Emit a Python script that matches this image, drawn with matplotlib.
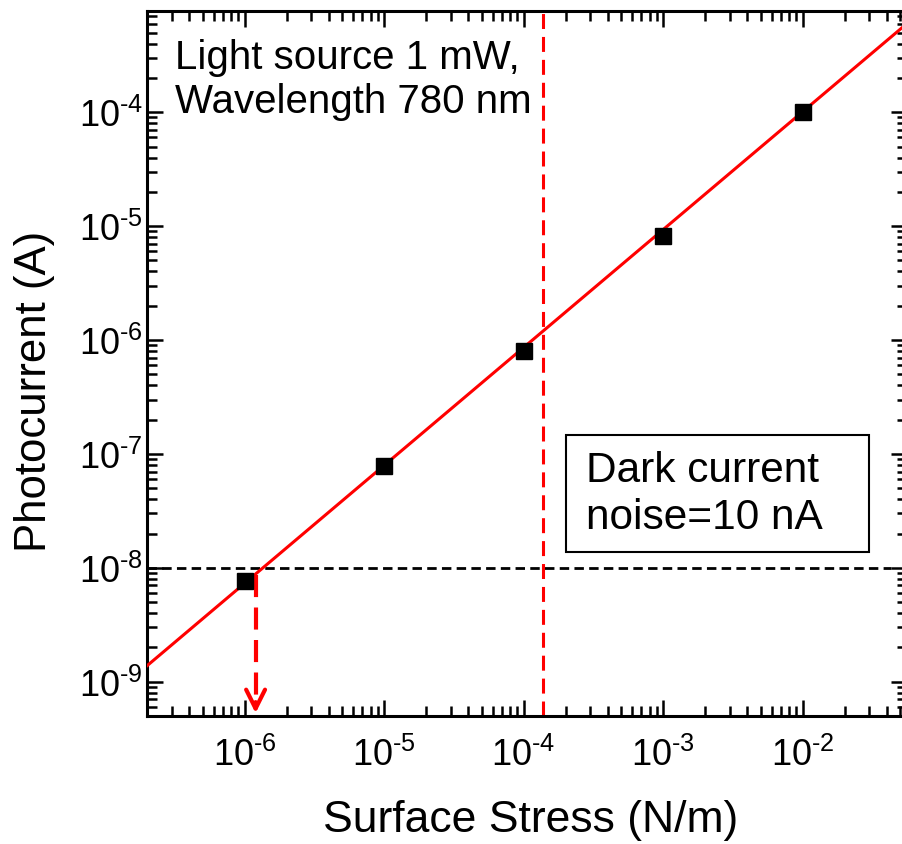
import numpy as np
import matplotlib
matplotlib.use("Agg")
import matplotlib.pyplot as plt
from matplotlib.patches import Rectangle
from matplotlib.ticker import FuncFormatter

plt.rcParams['font.family'] = ['Liberation Sans', 'DejaVu Sans']
plt.rcParams['mathtext.fontset'] = 'custom'
plt.rcParams['mathtext.rm'] = 'Liberation Sans'
plt.rcParams['mathtext.it'] = 'Liberation Sans'

# measured points
stress = [1e-6, 1e-5, 1e-4, 1e-3, 1e-2]          # N/m
current = [7.7e-9, 7.9e-8, 8.0e-7, 8.2e-6, 1.0e-4]  # A

# linear fit (end points as drawn)
fit_x = [2.0e-7, 5.56e-2]
fit_y = [1.38e-9, 5.96e-4]

noise_level = 1e-8      # dark current noise
min_stress = 1.2e-6     # detection limit
mark_stress = 1.37e-4   # red dashed marker

xlim = (2.0e-7, 5.56e-2)
ylim = (5.0e-10, 7.7e-4)


def pow10(v, pos):
    e = int(round(np.log10(v)))
    return r'10$^{\text{-%d}}$' % -e


fig = plt.figure(figsize=(9.02, 8.45), dpi=100)
ax = fig.add_axes([0.163, 0.1515, 0.842, 0.834])
ax.set_xscale('log')
ax.set_yscale('log')
ax.set_xlim(*xlim)
ax.set_ylim(*ylim)

ax.plot(fit_x, fit_y, color='red', lw=2.2, zorder=3)
ax.plot(stress, current, 's', color='black', ms=11, zorder=4)

ax.axhline(noise_level, xmax=0.98, color='black', lw=2, dashes=(3.4, 1.9), zorder=2)
ax.axvline(mark_stress, color='red', lw=2.2, dashes=(4.9, 2.6), zorder=2)

# detection limit arrow
ax.plot([min_stress, min_stress], [8.6e-9, 6.2e-10], color='red', lw=3,
        dashes=(5.3, 2.5), zorder=3)
ax.annotate('', xy=(min_stress, ylim[0]), xytext=(min_stress, 7.0e-10),
            arrowprops=dict(arrowstyle='->', color='red', lw=3,
                            mutation_scale=34), zorder=3)

ax.text(0.037, 0.962, 'Light source 1 mW,\nWavelength 780 nm',
        transform=ax.transAxes, fontsize=29, va='top', ha='left')

ax.add_patch(Rectangle((0.551, 0.2326), 0.40, 0.166, transform=ax.transAxes,
                       fill=False, ec='black', lw=1.5, zorder=5))
ax.text(0.578, 0.3156, 'Dark current\nnoise=10 nA', transform=ax.transAxes,
        fontsize=30.5, va='center', ha='left', zorder=6)

ax.set_xlabel('Surface Stress (N/m)', fontsize=32)
ax.set_ylabel('Photocurrent (A)', fontsize=31.5)
ax.xaxis.set_label_coords(0.505, -0.118)
ax.yaxis.set_label_coords(-0.121, 0.462)

ax.set_xticks([1e-6, 1e-5, 1e-4, 1e-3, 1e-2])
ax.set_yticks([1e-9, 1e-8, 1e-7, 1e-6, 1e-5, 1e-4])
ax.xaxis.set_major_formatter(FuncFormatter(pow10))
ax.yaxis.set_major_formatter(FuncFormatter(pow10))
ax.tick_params(which='both', direction='in', top=True, right=True,
               width=1.8, labelsize=26)
ax.tick_params(axis='x', which='major', length=11.5, pad=15)
ax.tick_params(axis='y', which='major', length=11.5, pad=3)
ax.tick_params(which='minor', length=7)
for s in ax.spines.values():
    s.set_linewidth(2.2)

fig.savefig('out.png', dpi=100)
